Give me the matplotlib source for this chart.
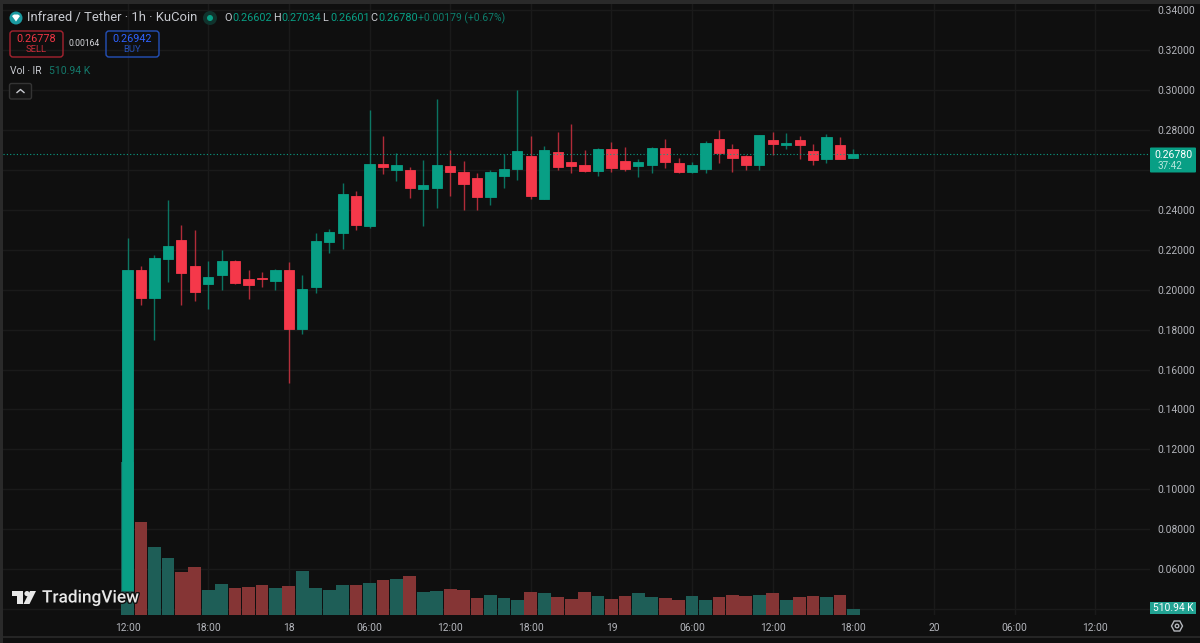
import matplotlib
matplotlib.use("Agg")
import matplotlib.pyplot as plt
import matplotlib.patheffects as pe
from matplotlib.patches import Circle, FancyBboxPatch, Polygon, Rectangle
import numpy as np

plt.rcParams['font.family'] = ['Roboto', 'DejaVu Sans']

# hourly candles starting at 12:00 on the 17th
opens = [0.0496, 0.2097, 0.1960, 0.2153, 0.2247, 0.2118, 0.2028, 0.2075, 0.2143, 0.2052, 0.2057,
         0.2045, 0.2098, 0.1803, 0.2013, 0.2240, 0.2282, 0.2469, 0.2320, 0.2631, 0.2599, 0.2597,
         0.2505, 0.2510, 0.2617, 0.2589, 0.2557, 0.2462, 0.2570, 0.2604, 0.2669, 0.2454, 0.2689,
         0.2638, 0.2626, 0.2594, 0.2703, 0.2643, 0.2619, 0.2626, 0.2709, 0.2634, 0.2590, 0.2602,
         0.2754, 0.2706, 0.2669, 0.2622, 0.2751, 0.2724, 0.2751, 0.2693, 0.2656, 0.2726, 0.26602]
highs = [0.2260, 0.2117, 0.2172, 0.2449, 0.2324, 0.2300, 0.2143, 0.2198, 0.2147, 0.2098, 0.2087,
         0.2101, 0.2137, 0.2075, 0.2285, 0.2302, 0.2534, 0.2494, 0.2899, 0.2771, 0.2686, 0.2612,
         0.2648, 0.2953, 0.2699, 0.2643, 0.2585, 0.2597, 0.2678, 0.2999, 0.2768, 0.2719, 0.2789,
         0.2831, 0.2699, 0.2708, 0.2739, 0.2714, 0.2653, 0.2714, 0.2754, 0.2659, 0.2639, 0.2743,
         0.2799, 0.2731, 0.2674, 0.2774, 0.2788, 0.2784, 0.2771, 0.2728, 0.2779, 0.2764, 0.27034]
lows = [0.0496, 0.1923, 0.1748, 0.2040, 0.1923, 0.1945, 0.1903, 0.2000, 0.2027, 0.1952, 0.2012,
        0.1998, 0.1534, 0.1778, 0.1985, 0.2185, 0.2204, 0.2300, 0.2307, 0.2579, 0.2545, 0.2460,
        0.2319, 0.2410, 0.2470, 0.2400, 0.2400, 0.2425, 0.2510, 0.2550, 0.2454, 0.2454, 0.2597,
        0.2582, 0.2589, 0.2569, 0.2589, 0.2594, 0.2562, 0.2585, 0.2609, 0.2585, 0.2582, 0.2585,
        0.2634, 0.2589, 0.2599, 0.2599, 0.2674, 0.2706, 0.2654, 0.2626, 0.2634, 0.2654, 0.26601]
closes = [0.2098, 0.1960, 0.2157, 0.2217, 0.2082, 0.1990, 0.2062, 0.2143, 0.2032, 0.2023, 0.2052,
          0.2098, 0.1803, 0.2002, 0.2244, 0.2287, 0.2477, 0.2322, 0.2631, 0.2614, 0.2622, 0.2507,
          0.2525, 0.2622, 0.2590, 0.2527, 0.2462, 0.2589, 0.2602, 0.2694, 0.2467, 0.2698, 0.2615,
          0.2619, 0.2594, 0.2703, 0.2610, 0.2605, 0.2639, 0.2711, 0.2639, 0.2590, 0.2622, 0.2733,
          0.2686, 0.2659, 0.2626, 0.2774, 0.2728, 0.2734, 0.2724, 0.2651, 0.2766, 0.2654, 0.26780]
# volume in thousands
volumes = [13770, 8400, 6150, 5130, 3840, 4290, 2250, 2820, 2460, 2520, 2700,
           2460, 2610, 3930, 2400, 2250, 2670, 2670, 2880, 3120, 3240, 3540,
           2100, 2160, 2310, 2250, 1530, 1800, 1530, 1380, 2070, 1980, 1620,
           1440, 2100, 1710, 1440, 1710, 1980, 1620, 1530, 1380, 1710, 1380,
           1620, 1770, 1710, 1770, 1980, 1380, 1620, 1710, 1620, 1770, 510.94]

time_ticks = [0, 6, 12, 18, 24, 30, 36, 42, 48, 54, 60, 66, 72]
time_labels = ['12:00', '18:00', '18', '06:00', '12:00', '18:00', '19', '06:00',
               '12:00', '18:00', '20', '06:00', '12:00']
price_ticks = [0.04, 0.06, 0.08, 0.10, 0.12, 0.14, 0.16, 0.18, 0.20, 0.22, 0.24,
               0.26, 0.28, 0.30, 0.32, 0.34]
# these two sit under the tags on the right scale
hidden_prices = [0.04, 0.26]
last_price = 0.26780

BG = '#0f0f0f'
GREEN = '#089f85'
RED = '#f5384a'
VOL_GREEN = '#1e5e57'
VOL_RED = '#853535'
GRID = '#1a1a1a'
TXT = '#b4b6bc'

W, H = 1200, 643
fig = plt.figure(figsize=(12, 6.43), dpi=100, facecolor=BG)
rect = [3 / W, 1 - 615 / H, 1147 / W, 611 / H]
xlim = (-9.27, 76.07)
ylim = (0.0371, 0.3430)

t = np.arange(len(opens))
o = np.array(opens)
c = np.array(closes)
up = c >= o

# grid and axis labels at the back
ax = fig.add_axes(rect, facecolor=BG)
ax.set_xlim(xlim)
ax.set_ylim(ylim)
ax.set_xticks(time_ticks, time_labels)
ax.set_yticks(price_ticks, ['' if p in hidden_prices else f'{p:.5f}' for p in price_ticks])
ax.yaxis.tick_right()
ax.tick_params(length=0, labelcolor=TXT, labelsize=7.4)
ax.tick_params(axis='x', pad=6)
ax.tick_params(axis='y', pad=5)
ax.grid(color=GRID, lw=1)
ax.set_axisbelow(True)
for s in ax.spines.values():
    s.set_visible(False)

# volume pane
vol = fig.add_axes(rect, facecolor='none')
vol.set_xlim(xlim)
vol.set_ylim(0, 54990)
vol.bar(t, volumes, width=0.95, color=[VOL_GREEN if u else VOL_RED for u in up])
vol.axis('off')

# candles
cax = fig.add_axes(rect, facecolor='none')
cax.set_xlim(xlim)
cax.set_ylim(ylim)
colors = [GREEN if u else RED for u in up]
cax.vlines(t, lows, highs, colors=colors, lw=1, alpha=0.7)
cax.bar(t, np.abs(c - o), bottom=np.minimum(o, c), width=0.76, color=colors,
        edgecolor=colors, lw=0.6)
cax.axhline(last_price, color=GREEN, lw=0.8, ls=(0, (1, 2)))
cax.axis('off')

# overlay in pixel coordinates for the chart furniture
ui = fig.add_axes([0, 0, 1, 1], facecolor='none')
ui.set_xlim(0, W)
ui.set_ylim(H, 0)
ui.axis('off')

# window frame
ui.add_patch(Rectangle((0, 0), W, 3.5, color='#2a2a2a', lw=0))
ui.add_patch(Rectangle((0, 0), 2.5, H, color='#2a2a2a', lw=0))
ui.plot([0, W], [637, 637], color='#2a2a2a', lw=1.2)


def label(x, y, s, color=TXT, size=7.4, ha='left', **kw):
    return ui.text(x, y, s, color=color, fontsize=size, ha=ha, va='center', **kw)


# header
ui.add_patch(Circle((16, 18), 6.5, color='#1a9aa0', lw=0))
ui.add_patch(Polygon([(12, 16), (14, 14.5), (18, 14.5), (20, 16), (16, 21.5)], color='white', lw=0))
label(27, 18, 'Infrared / Tether · 1h · KuCoin', color='#c8cad0', size=9.4)
ui.add_patch(Circle((210, 18), 7, color='#10332d', lw=0))
ui.add_patch(Circle((210, 18), 3, color=GREEN, lw=0))

ohlc_parts = [(224, 'O', '0.26602'), (273, 'H', '0.27034'), (322, 'L', '0.26601'), (370, 'C', '0.26780')]
for x, key, val in ohlc_parts:
    label(x, 18, key, color='#c8cad0', size=7.8)
    label(x + 8.5, 18, val, color=GREEN, size=7.8)
label(418.5, 18, '+0.00179 (+0.67%)', color='#0d7e6c', size=7.5)

# sell / buy boxes
ui.add_patch(FancyBboxPatch((10, 31), 53, 26, boxstyle='round,pad=0,rounding_size=3',
                            fc='none', ec='#a5232f', lw=1))
label(36.5, 38.5, '0.26778', color='#f23645', size=7.8, ha='center')
label(36.5, 50, 'SELL', color='#c92d3a', size=6.8, ha='center')
label(84.5, 44, '0.00164', color='#d5d6da', size=6.2, ha='center')
ui.add_patch(FancyBboxPatch((106, 31), 53, 26, boxstyle='round,pad=0,rounding_size=3',
                            fc='none', ec='#2450b8', lw=1))
label(132.5, 38.5, '0.26942', color='#2e62ff', size=7.8, ha='center')
label(132.5, 50, 'BUY', color='#2450b8', size=6.8, ha='center')

label(10, 71, 'Vol · IR', color='#c8cad0', size=7.4)
label(49, 71, '510.94 K', color='#14796b', size=7.6)
ui.add_patch(FancyBboxPatch((9.5, 83.5), 22, 15.5, boxstyle='round,pad=0,rounding_size=2',
                            fc='#141414', ec='#343434', lw=1))
ui.plot([17, 20.5, 24], [92.5, 89.5, 92.5], color='#c8cad0', lw=1)

# last price and volume tags on the right scale
ui.add_patch(FancyBboxPatch((1150, 147.5), 46, 25, boxstyle='round,pad=0,rounding_size=1',
                            fc=GREEN, ec='none'))
label(1173, 154.5, '0.26780', color='white', size=7.6, ha='center')
label(1157, 166, '37:42', color='#b5e6dc', size=7.2)
ui.add_patch(Rectangle((1150, 602), 46, 12, color='#22a393', lw=0))
label(1173, 608, '510.94 K', color='white', size=7.4, ha='center')

# settings icon
ui.add_patch(Polygon([(1171.5, 626), (1174.2, 621), (1179.8, 621), (1182.5, 626), (1179.8, 631), (1174.2, 631)],
                     fc='none', ec='#b4b6bc', lw=1))
ui.add_patch(Circle((1177, 626), 1.8, fc='none', ec='#b4b6bc', lw=1))

# TradingView mark
halo = [pe.withStroke(linewidth=2, foreground='#0f0f0f')]
ui.add_patch(Polygon([(12, 591), (23, 591), (23, 604), (17, 604), (17, 596), (12, 596)], color='#e8e8e8', lw=0))
ui.add_patch(Circle((27, 593.6), 2.6, color='#e8e8e8', lw=0))
ui.add_patch(Polygon([(30, 591), (36, 591), (29.5, 604), (23.5, 604)], color='#e8e8e8', lw=0))
label(42, 598, 'TradingView', color='#e8e8e8', size=12.4, fontweight='medium', path_effects=halo)

fig.savefig('out.png', dpi=100, facecolor=BG)
